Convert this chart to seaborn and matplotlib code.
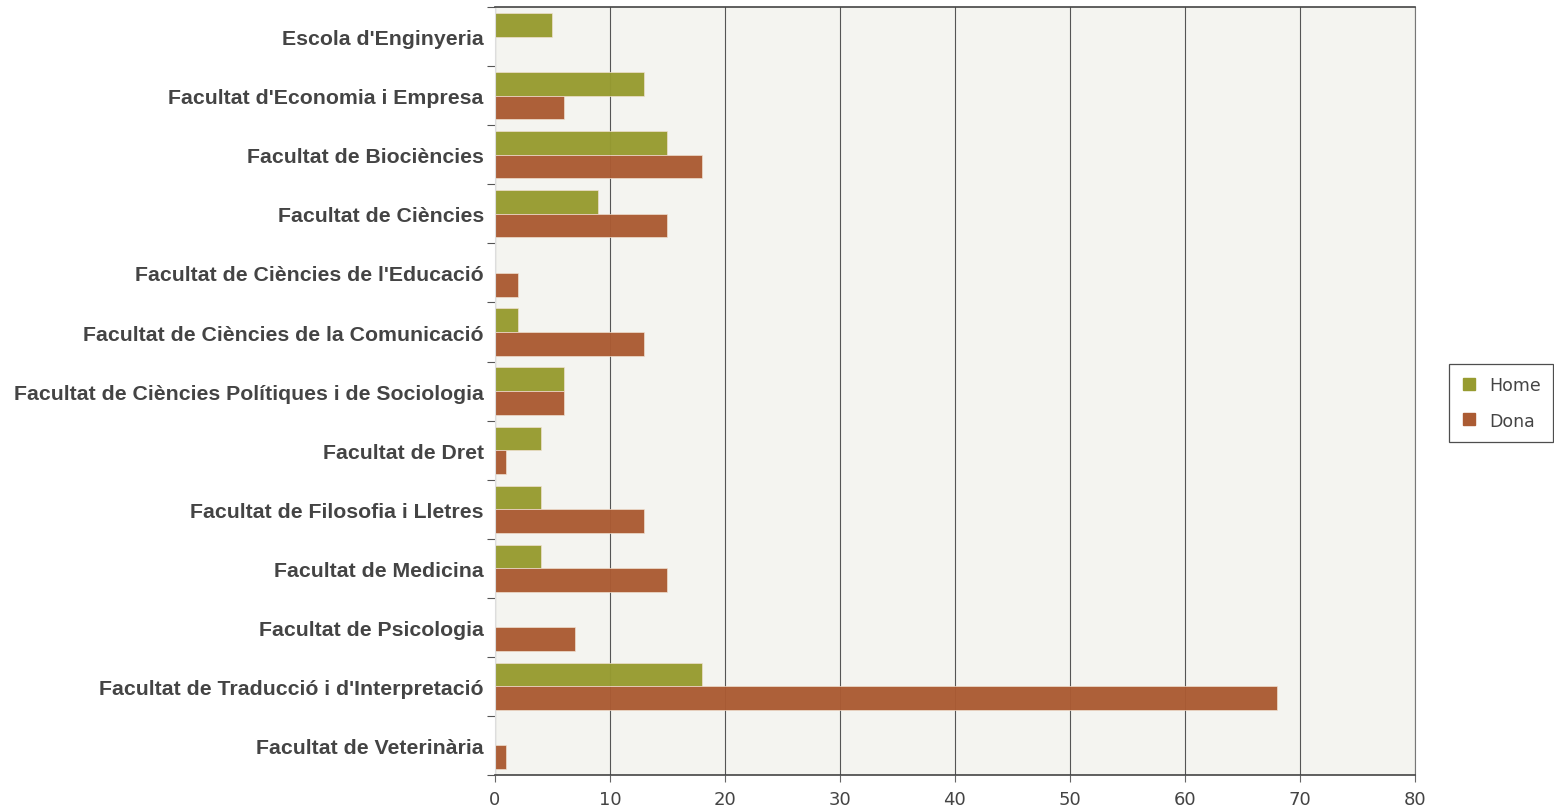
"""Graduats per centre i sexe: barres horitzontals agrupades."""

import numpy as np
import pandas as pd
import seaborn as sns
from matplotlib import pyplot as plt
from matplotlib.lines import Line2D

plt.switch_backend("Agg")

CENTRES = [
    "Escola d'Enginyeria",
    "Facultat d'Economia i Empresa",
    "Facultat de Biociències",
    "Facultat de Ciències",
    "Facultat de Ciències de l'Educació",
    "Facultat de Ciències de la Comunicació",
    "Facultat de Ciències Polítiques i de Sociologia",
    "Facultat de Dret",
    "Facultat de Filosofia i Lletres",
    "Facultat de Medicina",
    "Facultat de Psicologia",
    "Facultat de Traducció i d'Interpretació",
    "Facultat de Veterinària",
]
HOME = [5, 13, 15, 9, 0, 2, 6, 4, 4, 4, 0, 18, 0]
DONA = [0, 6, 18, 15, 2, 13, 6, 1, 13, 15, 7, 68, 1]
SEXES = ["Home", "Dona"]
COLORS = ["#979b30", "#ab5b33"]
X_TICKS = list(range(0, 81, 10))


def build_frame() -> pd.DataFrame:
    rows = []
    for centre, h, d in zip(CENTRES, HOME, DONA):
        rows.append({"Centre": centre, "Sexe": "Home", "Valor": h})
        rows.append({"Centre": centre, "Sexe": "Dona", "Valor": d})
    return pd.DataFrame(rows)


def main() -> None:
    df = build_frame()
    sns.set_style("white")
    plt.rcParams["font.family"] = ["DejaVu Sans"]

    fig = plt.figure(figsize=(15.54, 8.12), dpi=100)
    ax = fig.add_axes([0.3185, 0.0443, 0.592, 0.9457])
    ax.set_facecolor("#f4f4f0")

    sns.barplot(
        data=df, y="Centre", x="Valor", hue="Sexe", order=CENTRES,
        hue_order=SEXES, palette=COLORS, orient="h", width=0.8,
        saturation=1, alpha=0.97, linewidth=0.5, edgecolor="#f0e0d0",
        ax=ax, legend=False,
    )

    ax.set_xlim(0, 80)
    ax.set_ylim(len(CENTRES) - 0.5, -0.5)
    ax.set_xticks(X_TICKS)
    ax.set_xticklabels([str(t) for t in X_TICKS], fontsize=13, color="#444444")
    ax.xaxis.grid(True, color="#555555", linewidth=0.8)
    for line in ax.get_xgridlines():
        line.set_zorder(2.5)
    ax.tick_params(axis="x", bottom=True, length=5, width=0.8,
                   color="#666666", direction="out", pad=6)

    ax.set_yticks(range(len(CENTRES)))
    ax.set_yticklabels(CENTRES, fontsize=15.3, fontweight="bold", color="#444444",
                       family=["Liberation Sans", "DejaVu Sans"])
    ax.tick_params(axis="y", which="major", left=False, length=0, pad=8)
    ax.set_yticks(np.arange(-0.5, len(CENTRES), 1.0), minor=True)
    ax.tick_params(axis="y", which="minor", left=True, length=6, width=0.8,
                   color="#555555", direction="out")

    ax.set_xlabel("")
    ax.set_ylabel("")
    for side in ["top", "bottom"]:
        ax.spines[side].set_color("#444444")
        ax.spines[side].set_linewidth(1.2)
    ax.spines["right"].set_color("#777777")
    ax.spines["left"].set_color("#dddddd")

    handles = [
        Line2D([0], [0], marker="s", linestyle="", markersize=8,
               markerfacecolor=c, markeredgecolor=c)
        for c in COLORS
    ]
    leg = fig.legend(
        handles, SEXES, loc="upper right", bbox_to_anchor=(0.9995, 0.5505),
        frameon=True, fancybox=False, edgecolor="#222222", fontsize=12.5,
        labelspacing=1.0, handlelength=0.9, handletextpad=0.7, borderpad=0.7,
        borderaxespad=0,
    )
    leg.get_frame().set_linewidth(0.9)
    for text in leg.get_texts():
        text.set_color("#444444")

    fig.savefig("out.png", dpi=100)
    plt.close(fig)


if __name__ == "__main__":
    main()
